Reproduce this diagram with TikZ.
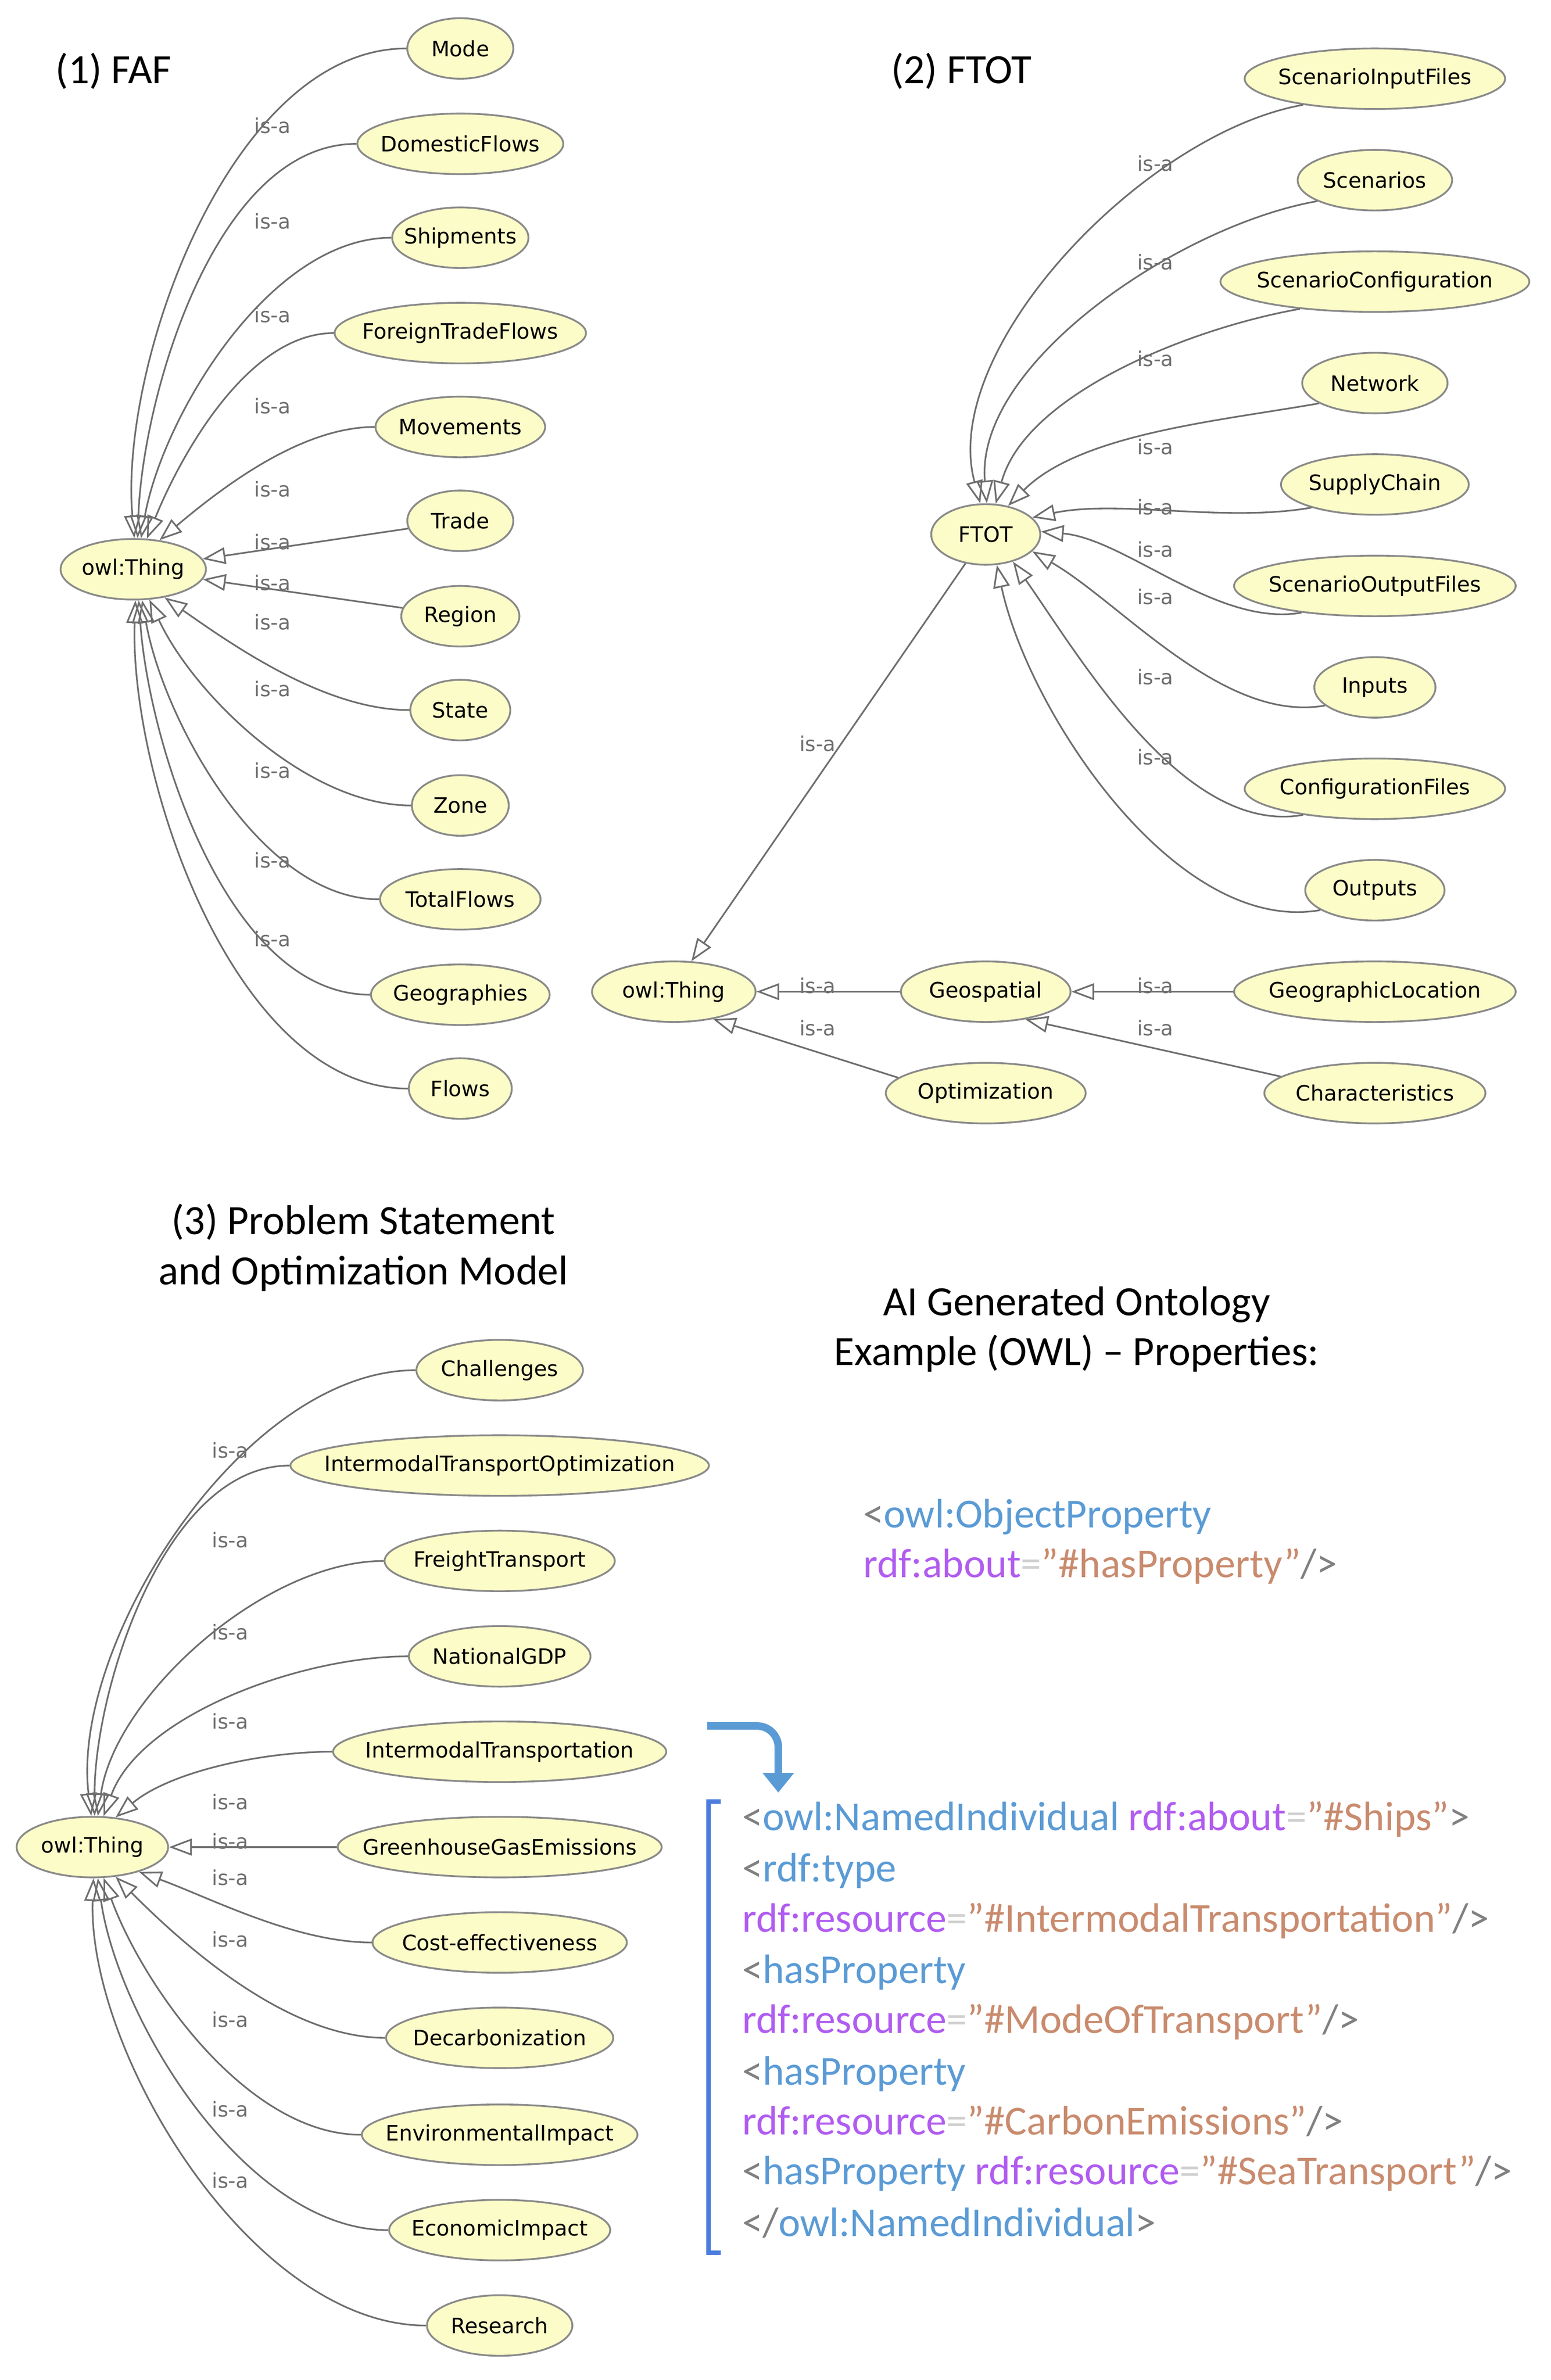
\documentclass[tikz,border=0pt]{standalone}
\usepackage{fontspec}
\setmainfont{Carlito}
\newfontfamily\nodefont{DejaVu Sans}
\usetikzlibrary{shapes.geometric,arrows.meta}
\definecolor{clsfill}{HTML}{FCFCC8}
\definecolor{clsdraw}{HTML}{8A8A8A}
\definecolor{edgec}{HTML}{6E6E6E}
\definecolor{ctag}{HTML}{5B9BD5}
\definecolor{cattr}{HTML}{B05CF0}
\definecolor{cval}{HTML}{C98B6E}
\definecolor{cpun}{HTML}{808080}
\definecolor{ceq}{HTML}{CFCFCF}
\newcommand\tg[1]{\textcolor{ctag}{#1}}
\newcommand\at[1]{\textcolor{cattr}{#1}}
\newcommand\vl[1]{\textcolor{cval}{#1}}
\newcommand\pn[1]{\textcolor{cpun}{#1}}
\newcommand\eqs{\textcolor{ceq}{=}}
\newcommand\qq{{\char34}}
\begin{document}
\begin{tikzpicture}[x=1pt,y=-1pt,
  cls/.style={ellipse,draw=clsdraw,fill=clsfill,line width=1.2pt,minimum height=40pt,inner xsep=-18pt,inner ysep=0pt,font=\nodefont\fontsize{14}{16}\selectfont},
  isa/.style={draw=edgec,line width=1.1pt,looseness=0.8,-{Triangle[open,length=15pt,width=11pt]}},
  lab/.style={font=\nodefont\fontsize{13.5}{15}\selectfont,text=edgec,inner sep=0pt},
  title/.style={font=\fontsize{27.5}{33}\selectfont,align=center},
  code/.style={font=\fontsize{27.2}{30}\selectfont,anchor=base west,inner sep=0pt}]
\useasboundingbox (0,0) rectangle (1024,1572);
% ---------- Panel 1
\node[title] (t1) at (75,47) {(1) FAF};
\node[cls,minimum width=96pt] (T1) at (88,376) {owl:Thing};
\foreach \n/\t/\w/\yy/\a/\i/\ly in {
 a/Mode/70/32/88/95/83, b/DomesticFlows/136/95/82/88/146, c/Shipments/90/157/76/80/208,
 d/ForeignTradeFlows/166/220/66/68/268, e/Movements/112/282/48/40/323,
 h/State/66/469/-42/-35/411, i/Zone/64/532/-62/-65/455, j/TotalFlows/106/594/-74/-80/509,
 k/Geographies/118/657/-80/-86/568, l/Flows/68/719/-86/-92/620}{
  \node[cls,minimum width=\w pt] (p1\n) at (304,\yy) {\t};
  \draw[isa] (p1\n.west) to[out=180,in=\i] (T1.\a);
  \node[lab] (l1\n) at (180,\ly) {is-a};
}
\node[cls,minimum width=70pt] (p1f) at (304,344) {Trade};
\draw[isa] (p1f) -- (T1);
\node[lab] (l1f) at (180,358) {is-a};
\node[cls,minimum width=78pt] (p1g) at (304,407) {Region};
\draw[isa] (p1g) -- (T1);
\node[lab] (l1g) at (180,385) {is-a};
% ---------- Panel 2
\node[title] (t2) at (635,47) {(2) FTOT};
\node[cls,minimum width=72pt] (F) at (651,353) {FTOT};
\foreach \n/\t/\w/\yy/\a/\i/\ly in {
 a/ScenarioInputFiles/172/52/100/105/108, b/Scenarios/102/119/88/95/173,
 c/ScenarioConfiguration/204/186/72/75/237, d/Network/96/253/52/45/295,
 e/SupplyChain/124/320/20/12/335, f/ScenarioOutputFiles/186/387/3/-5/363,
 g/Inputs/80/454/-20/-30/394, h/ConfigurationFiles/172/521/-45/-55/447,
 i/Outputs/92/588/-70/-78/500}{
  \node[cls,minimum width=\w pt] (p2\n) at (908,\yy) {\t};
  \draw[isa] (p2\n.200) to[out=190,in=\i] (F.\a);
  \node[lab] (l2\n) at (763,\ly) {is-a};
}
\node[cls,minimum width=108pt] (T2) at (445,655) {owl:Thing};
\draw[isa] (F.235) -- (T2.60);
\node[lab] (l2x) at (540,491) {is-a};
\node[cls,minimum width=112pt] (G) at (651,655) {Geospatial};
\node[cls,minimum width=132pt] (O) at (651,722) {Optimization};
\draw[isa] (G) -- (T2);
\draw[isa] (O.170) -- (T2.-35);
\node[lab] (l2y) at (540,651) {is-a};
\node[lab] (l2z) at (540,679) {is-a};
\node[cls,minimum width=186pt] (GL) at (908,655) {GeographicLocation};
\node[cls,minimum width=146pt] (CH) at (908,722) {Characteristics};
\draw[isa] (GL) -- (G);
\draw[isa] (CH.170) -- (G.-35);
\node[lab] (l2u) at (763,651) {is-a};
\node[lab] (l2v) at (763,679) {is-a};
% ---------- Panel 3
\node[title] (t3) at (240,824) {(3) Problem Statement\\and Optimization Model};
\node[cls,minimum width=100pt] (T3) at (61,1220) {owl:Thing};
\foreach \n/\t/\w/\yy/\a/\i/\ly in {
 a/Challenges/110/905/92/97/958, b/IntermodalTransportOptimization/276/968/86/90/1017,
 c/FreightTransport/152/1031/80/82/1078, d/NationalGDP/120/1094/70/70/1137,
 e/IntermodalTransportation/220/1157/52/40/1190,
 g/Cost-effectiveness/168/1283/-28/-20/1240, h/Decarbonization/150/1346/-52/-45/1281,
 i/EnvironmentalImpact/182/1410/-70/-70/1334, j/EconomicImpact/146/1473/-80/-82/1393,
 k/Research/96/1536/-88/-92/1440}{
  \node[cls,minimum width=\w pt] (p3\n) at (330,\yy) {\t};
  \draw[isa] (p3\n.west) to[out=180,in=\i] (T3.\a);
  \node[lab] (l3\n) at (152,\ly) {is-a};
}
\node[cls,minimum width=214pt] (p3f) at (330,1220) {GreenhouseGasEmissions};
\draw[isa] (p3f) -- (T3);
\node[lab] (l3f) at (152,1216) {is-a};
% ---------- Code
\node[title] (t4) at (711,878) {AI Generated Ontology\\Example (OWL) -- Properties:};
\node[code] (c1) at (570,1009) {\pn{<}\tg{owl:ObjectProperty}};
\node[code] (c2) at (570,1042) {\at{rdf:about}\eqs\vl{\qq\#hasProperty\qq}\pn{/>}};
\coordinate (as) at (467,1140);
\coordinate (ae) at (514,1184);
\draw[ctag,line width=5pt,rounded corners=14pt,-{Triangle[length=13pt,width=20pt]}] (as) -- (514,1140) -- (ae);
\draw[color=ctag!80!blue,line width=3pt] (476,1190) -- (468,1190) -- (468,1488) -- (476,1488);
\node[code] (d1) at (490,1209) {\pn{<}\tg{owl:NamedIndividual} \at{rdf:about}\eqs\vl{\qq\#Ships\qq}\pn{>}};
\node[code] (d2) at (490,1243) {\pn{<}\tg{rdf:type}};
\node[code] (d3) at (490,1276) {\at{rdf:resource}\eqs\vl{\qq\#IntermodalTransportation\qq}\pn{/>}};
\node[code] (d4) at (490,1310) {\pn{<}\tg{hasProperty}};
\node[code] (d5) at (490,1343) {\at{rdf:resource}\eqs\vl{\qq\#ModeOfTransport\qq}\pn{/>}};
\node[code] (d6) at (490,1377) {\pn{<}\tg{hasProperty}};
\node[code] (d7) at (490,1410) {\at{rdf:resource}\eqs\vl{\qq\#CarbonEmissions\qq}\pn{/>}};
\node[code] (d8) at (490,1443) {\pn{<}\tg{hasProperty} \at{rdf:resource}\eqs\vl{\qq\#SeaTransport\qq}\pn{/>}};
\node[code] (d9) at (490,1477) {\pn{</}\tg{owl:NamedIndividual}\pn{>}};
\end{tikzpicture}
\end{document}
